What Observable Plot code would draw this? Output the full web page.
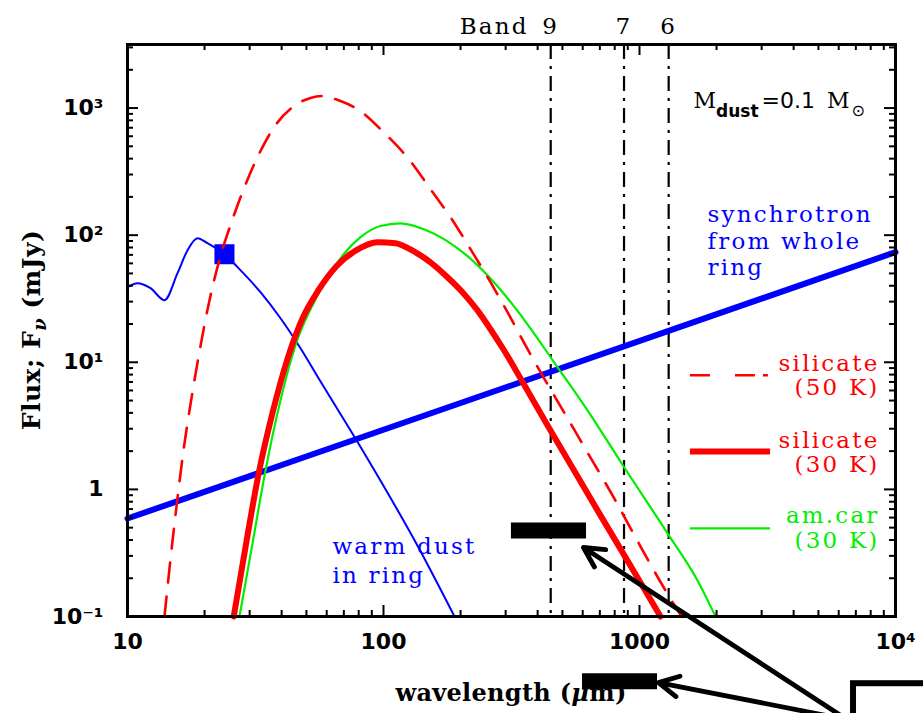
<!DOCTYPE html>
<html>
<head>
<meta charset="utf-8">
<script src="https://cdn.jsdelivr.net/npm/d3@7"></script>
<script src="https://cdn.jsdelivr.net/npm/@observablehq/plot@0.6"></script>
<style>
  html, body { margin: 0; padding: 0; background: #fff; }
  #chart svg { display: block; }
</style>
</head>
<body>
<div id="chart"></div>
<script>
// ---------------- data (wavelength in micron, flux in mJy) ----------------
const warmWl = [10.0, 10.94, 12.3, 13.95, 15.68, 17.16, 18.77, 20.54, 23.92, 26.9, 33.07, 39.6, 47.4, 56.7, 82.8, 137, 189.4];
const warmF  = [39.0, 41.9, 38.3, 30.8, 50.2, 76.2, 94.7, 86.4, 70.8, 56.0, 35.6, 22.2, 12.9, 7.08, 2.03, 0.349, 0.100];

const sil50Wl = [13.95, 14.59, 15.54, 16.55, 17.78, 19.28, 20.91, 23.08, 25.48, 28.64, 32.78, 37.85, 45.32, 51.86, 57.77, 67.9, 79.1, 100.9, 126.4, 152.6, 186.0, 218.7, 261.8, 305.1, 358.6, 421.7, 504.8, 626.5, 784.5, 965, 1186, 1459];
const sil50F  = [0.100, 0.239, 0.734, 2.03, 5.21, 13.4, 30.8, 68.4, 126.5, 239, 443, 734, 1057, 1200, 1243, 1135, 981, 635, 390, 230, 131, 77.6, 42.7, 24.8, 13.6, 7.62, 4.11, 1.95, 0.897, 0.419, 0.199, 0.100];

const sil30Wl = [26.0, 29.2, 32.6, 36.9, 42.2, 48.3, 55.7, 65.5, 78.4, 94.8, 111.4, 131, 152.6, 177.8, 203.5, 232.9, 261.8, 294.3, 342.8, 437, 504.8, 685.4, 982, 1208];
const sil30F  = [0.100, 0.397, 1.36, 4.04, 10.7, 22.2, 36.9, 57.0, 76.2, 88.1, 86.5, 74.8, 61.2, 46.7, 35.6, 25.6, 18.2, 12.6, 7.48, 3.19, 1.95, 0.684, 0.203, 0.100];

const amcWl = [27.38, 30.78, 34.6, 39.6, 45.73, 52.34, 59.9, 70.4, 81.3, 97.3, 116.5, 144.6, 212.9, 278.8, 365.2, 469.8, 626.5, 866, 1287, 1685, 1981];
const amcF  = [0.100, 0.376, 1.41, 5.03, 14.4, 27.1, 45.1, 72.1, 96.4, 118, 124, 111, 68.4, 39.6, 19.9, 9.64, 4.19, 1.52, 0.451, 0.192, 0.100];

const synchWl = [10, 10000];
const synchF  = [0.59, 73.5];

const squareWl = [23.92];
const squareF  = [70.8];

const bandWl = [450, 870, 1300];
const bandLabels = ["9", "7", "6"];

const limitX1 = [316, 599];
const limitX2 = [621, 1176];
const limitF  = [0.475, 0.031];

const arrowX1 = [6546, 6730];
const arrowY1 = [0.0152, 0.0152];
const arrowX2 = [604, 1186];
const arrowY2 = [0.349, 0.0302];

const boxX = [6855, 20000];
const boxY = [0.0296, 0.005];

// ticks
const xMajor = [10, 100, 1000, 10000];
const xTickLabels = ["10", "100", "1000", "10\u2074"];
const xMinor = [20,30,40,50,60,70,80,90,200,300,400,500,600,700,800,900,2000,3000,4000,5000,6000,7000,8000,9000];
const yMajor = [0.1, 1, 10, 100, 1000];
const yTickLabels = ["10\u207B\u00B9", "1", "10\u00B9", "10\u00B2", "10\u00B3"];
const yMinor = [0.2,0.3,0.4,0.5,0.6,0.7,0.8,0.9,2,3,4,5,6,7,8,9,20,30,40,50,60,70,80,90,200,300,400,500,600,700,800,900,2000,3000];

// annotations
const blueLabels = ["warm dust\nin ring", "synchrotron\nfrom whole\nring"];
const blueLabelX = [63.2, 1843];
const blueLabelY = [0.185, 48.4];

const legendLabels = ["silicate\n(50 K)", "silicate\n(30 K)", "am.car\n(30 K)"];
const legendColors = ["#ff0000", "#ff0000", "#00ee00"];
const legendTextX = 8660;
const legendTextY = [5.50, 1.36, 0.349];
const legendLineX = [1581, 3251];
const legendLineY = [7.91, 1.99, 0.493];

const mdustPos = [1633, 1000];

// ---------------- layout ----------------
const W = 923, H = 713, mL = 127, mR = 28, mT = 44, mB = 97;
const innerW = W - mL - mR, innerH = H - mT - mB;
const serif = "DejaVu Serif";
const sans = "DejaVu Sans";
const RED = "#ff0000", BLUE = "#0000ff", GREEN = "#00ee00";

const rows = (xs, ys) => xs.map((x, i) => ({x, y: ys[i]}));
const txt = {fontFamily: serif, fontSize: 23};
const smooth = "monotone-x";

const plot = Plot.plot({
  width: W, height: H,
  marginLeft: mL, marginRight: mR, marginTop: mT, marginBottom: mB,
  x: {type: "log", domain: [10, 10000]},
  y: {type: "log", domain: [0.1, Math.pow(10, 3.5)]},
  style: {background: "white", fontFamily: sans, color: "black"},
  marks: [
    // ALMA band lines
    Plot.ruleX(bandWl, {x: d => d, stroke: "black", strokeWidth: 2.2, strokeDasharray: "15,7,3,7"}),
    // synchrotron
    Plot.line(rows(synchWl, synchF), {x: "x", y: "y", stroke: BLUE, strokeWidth: 6}),
    // warm dust
    Plot.line(rows(warmWl, warmF), {x: "x", y: "y", stroke: BLUE, strokeWidth: 2, curve: smooth}),
    Plot.dot(rows(squareWl, squareF), {x: "x", y: "y", symbol: "square", r: 11.3, fill: BLUE, stroke: "none"}),
    // dust models
    Plot.line(rows(amcWl, amcF), {x: "x", y: "y", stroke: GREEN, strokeWidth: 2.2, curve: smooth}),
    Plot.line(rows(sil30Wl, sil30F), {x: "x", y: "y", stroke: RED, strokeWidth: 6, curve: smooth}),
    Plot.line(rows(sil50Wl, sil50F), {x: "x", y: "y", stroke: RED, strokeWidth: 2.6, strokeDasharray: "20,14", curve: smooth}),
    // legend swatches
    Plot.ruleY([legendLineY[0]], {y: d => d, x1: legendLineX[0], x2: legendLineX[1], stroke: RED, strokeWidth: 2.6, strokeDasharray: "20,25,20,8,5"}),
    Plot.ruleY([legendLineY[1]], {y: d => d, x1: legendLineX[0], x2: legendLineX[1], stroke: RED, strokeWidth: 6}),
    Plot.ruleY([legendLineY[2]], {y: d => d, x1: legendLineX[0], x2: legendLineX[1], stroke: GREEN, strokeWidth: 2.2}),
    Plot.text(legendLabels, {x: () => legendTextX, y: (d, i) => legendTextY[i], text: d => d, fill: (d, i) => legendColors[i],
      textAnchor: "end", lineAnchor: "bottom", lineHeight: 1.05, ...txt}),
    // blue labels
    Plot.text([blueLabels[0]], {x: () => blueLabelX[0], y: () => blueLabelY[0], text: d => d, fill: BLUE, textAnchor: "start", lineAnchor: "bottom", lineHeight: 1.23, ...txt}),
    Plot.text([blueLabels[1]], {x: () => blueLabelX[1], y: () => blueLabelY[1], text: d => d, fill: BLUE, textAnchor: "start", lineAnchor: "bottom", lineHeight: 1.15, ...txt}),
    // band labels
    Plot.text(bandWl, {x: d => d, text: bandLabels, frameAnchor: "top", dy: -11, lineAnchor: "bottom", fill: "black", ...txt}),
    Plot.text([bandWl[0]], {x: d => d, text: ["Band"], frameAnchor: "top", dy: -11, dx: -22, textAnchor: "end", lineAnchor: "bottom", fill: "black", ...txt}),
    // upper-limit bars
    Plot.ruleY(limitF, {y: d => d, x1: limitX1, x2: limitX2, stroke: "black", strokeWidth: 16}),
    // inset box + arrows
    Plot.rect([0], {x1: [boxX[0]], x2: [boxX[1]], y1: [boxY[0]], y2: [boxY[1]], fill: "none", stroke: "black", strokeWidth: 6}),
    Plot.arrow(arrowX1, {x1: arrowX1, y1: arrowY1, x2: arrowX2, y2: arrowY2, stroke: "black", strokeWidth: 4.8, headLength: 7, headAngle: 55}),
    // ticks (inside, all four sides)
    Plot.tickX(xMajor, {x: d => d, insetTop: innerH - 11, stroke: "black", strokeWidth: 2}),
    Plot.tickX(xMajor, {x: d => d, insetBottom: innerH - 11, stroke: "black", strokeWidth: 2}),
    Plot.tickX(xMinor, {x: d => d, insetTop: innerH - 6, stroke: "black", strokeWidth: 2}),
    Plot.tickX(xMinor, {x: d => d, insetBottom: innerH - 6, stroke: "black", strokeWidth: 2}),
    Plot.tickY(yMajor, {y: d => d, insetRight: innerW - 11, stroke: "black", strokeWidth: 2}),
    Plot.tickY(yMajor, {y: d => d, insetLeft: innerW - 11, stroke: "black", strokeWidth: 2}),
    Plot.tickY(yMinor, {y: d => d, insetRight: innerW - 6, stroke: "black", strokeWidth: 2}),
    Plot.tickY(yMinor, {y: d => d, insetLeft: innerW - 6, stroke: "black", strokeWidth: 2}),
    // axes labels
    Plot.axisX({ticks: xMajor, tickFormat: d => xTickLabels[xMajor.indexOf(d)], tickSize: 0, tickPadding: 17,
      fontSize: 22, fontWeight: "bold", fontFamily: sans, label: null}),
    Plot.axisY({ticks: yMajor, tickFormat: d => yTickLabels[yMajor.indexOf(d)], tickSize: 0, tickPadding: 24,
      fontSize: 22, fontWeight: "bold", fontFamily: sans, label: null}),
    Plot.frame({stroke: "black", strokeWidth: 3})
  ]
});

document.getElementById("chart").appendChild(plot);

// ---------------- rich text (sub/superscripts) ----------------
const svg = d3.select(plot);
svg.selectAll('g[aria-label="text"] text').style("letter-spacing", "2.2px");
const sx = plot.scale("x"), sy = plot.scale("y");

// x-axis title (behind the upper-limit bar)
const xt = svg.insert("text", ":first-child")
  .attr("x", (mL + W - mR) / 2).attr("y", H - 12)
  .attr("text-anchor", "middle").attr("font-family", serif).attr("font-weight", "bold")
  .attr("font-size", 24).attr("fill", "black").style("letter-spacing", "0.3px");
xt.append("tspan").text("wavelength (");
xt.append("tspan").attr("font-style", "italic").text("\u03BC");
xt.append("tspan").text("m)");

// y-axis title
const yt = svg.insert("text", ":first-child")
  .attr("transform", `translate(40,${(mT + H - mB) / 2}) rotate(-90)`)
  .attr("text-anchor", "middle").attr("font-family", serif).attr("font-weight", "bold")
  .attr("font-size", 25).attr("fill", "black").style("letter-spacing", "0.5px");
yt.append("tspan").text("Flux; F");
yt.append("tspan").attr("font-style", "italic").attr("font-size", 18).attr("dy", 6).text("\u03BD");
yt.append("tspan").attr("dy", -6).text(" (mJy)");

// M_dust annotation
const mt = svg.append("text")
  .attr("x", sx.apply(mdustPos[0])).attr("y", sy.apply(mdustPos[1]))
  .attr("text-anchor", "start").attr("font-size", 22).attr("fill", "black");
mt.append("tspan").attr("font-family", serif).text("M");
mt.append("tspan").attr("font-family", sans).attr("font-weight", "bold").attr("font-size", 17).attr("dy", 9).text("dust");
mt.append("tspan").attr("font-family", sans).attr("dy", -9).attr("dx", 3).text("=0.1");
mt.append("tspan").attr("font-family", serif).attr("dx", 12).text("M");
mt.append("tspan").attr("font-family", sans).attr("font-size", 16).attr("dy", 8).attr("dx", 2).text("\u2299");
</script>
</body>
</html>
